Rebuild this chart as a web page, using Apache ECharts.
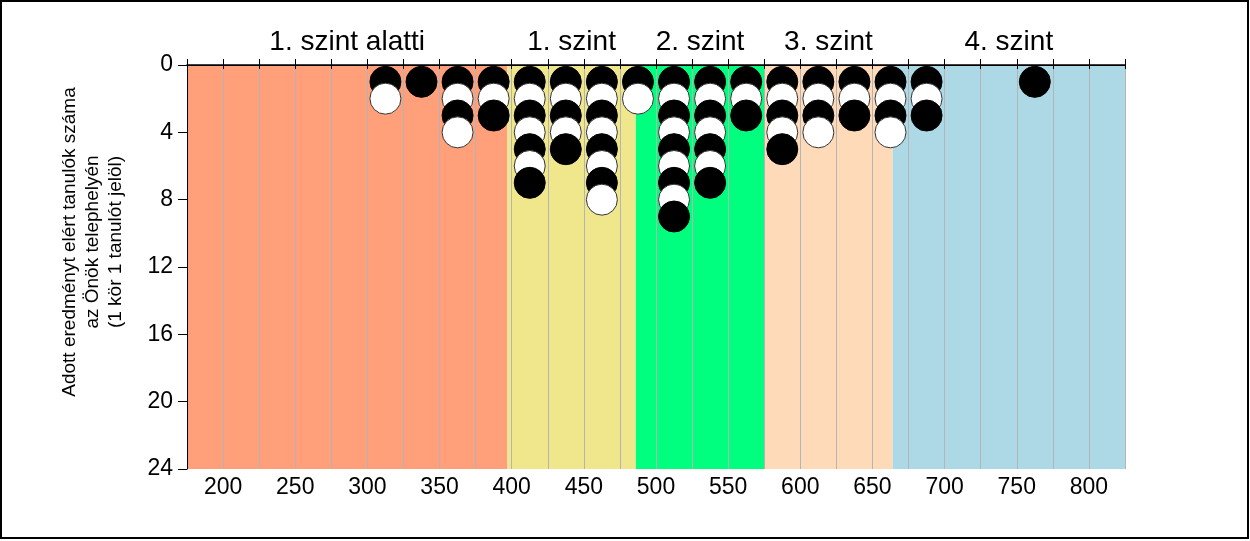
<!DOCTYPE html>
<html>
<head>
<meta charset="utf-8">
<script src="https://cdn.jsdelivr.net/npm/echarts@6/dist/echarts.min.js"></script>
<style>
html,body{margin:0;padding:0;background:#fff;}
#chart{width:1250px;height:541px;}
</style>
</head>
<body>
<div id="chart"></div>
<script>
// Score bins (bin centres) and number of students in each bin
const binCenters = [312.5, 337.5, 362.5, 387.5, 412.5, 437.5, 462.5, 487.5, 512.5, 537.5, 562.5, 587.5, 612.5, 637.5, 662.5, 687.5, 762.5];
const binCounts  = [2,     1,     4,     3,     7,     5,     8,     2,     9,     7,     3,     5,     4,     3,     4,     3,     1];

// Proficiency level bands
const levelNames  = ['1. szint alatti', '1. szint', '2. szint', '3. szint', '4. szint'];
const levelStarts = [175, 397, 486, 575, 664];
const levelEnds   = [397, 486, 575, 664, 825];
const levelColors = ['#FFA07A', '#F0E68C', '#00FF7F', '#FFDAB9', '#ADD8E6'];

const xLabelValues = [200, 250, 300, 350, 400, 450, 500, 550, 600, 650, 700, 750, 800];
const yAxisTitle = 'Adott eredményt elért tanulók száma\naz Önök telephelyén\n(1 kör 1 tanulót jelöl)';

const FONT = 'Liberation Sans, Arial, sans-serif';

// one point per student: stacked at 1..count in each bin
const allPts = [];
binCenters.forEach((x, i) => {
  for (let k = 1; k <= binCounts[i]; k++) {
    allPts.push({ value: [x, k], itemStyle: k % 2 === 1
      ? { color: '#000', borderColor: '#000', borderWidth: 1, opacity: 1 }
      : { color: '#fff', borderColor: '#333', borderWidth: 1, opacity: 1 } });
  }
});
// draw order: top of column first so lower circles overlap upper ones
allPts.sort((a, b) => a.value[1] - b.value[1]);

const areas = levelNames.map((n, i) => [
  { name: n, xAxis: levelStarts[i], itemStyle: { color: levelColors[i], opacity: 1 } },
  { xAxis: levelEnds[i] }
]);

const chart = echarts.init(document.getElementById('chart'), null, { renderer: 'canvas' });
chart.setOption({
  animation: false,
  backgroundColor: '#fff',
  grid: { left: 187, right: 125, top: 65, bottom: 72, containLabel: false },
  xAxis: [{
    type: 'value', min: 175, max: 825, interval: 25, position: 'bottom', z: 2,
    axisLine: { show: true, lineStyle: { color: '#000', width: 1 } },
    axisTick: { show: true, length: 4, lineStyle: { color: '#000' } },
    axisLabel: { margin: 7, color: '#000', fontSize: 23, fontFamily: FONT,
      formatter: v => xLabelValues.indexOf(v) >= 0 ? String(v) : '' },
    splitLine: { show: true, lineStyle: { color: '#B4B4B4', width: 1 } }
  }, {
    type: 'value', min: 175, max: 825, interval: 25, position: 'top', z: 2,
    axisLine: { show: true, lineStyle: { color: '#000', width: 1.5 } },
    axisTick: { show: true, length: 6, lineStyle: { color: '#000' } },
    axisLabel: { show: false },
    splitLine: { show: false }
  }],
  yAxis: {
    type: 'value', min: 0, max: 24, interval: 4, inverse: true, z: 2,
    axisLine: { show: true, lineStyle: { color: '#000', width: 1 } },
    axisTick: { show: true, length: 9, lineStyle: { color: '#000' } },
    axisLabel: { margin: 14, color: '#000', fontSize: 23, fontFamily: FONT },
    splitLine: { show: false }
  },
  graphic: [{
    type: 'rect', shape: { x: 1, y: 1, width: 1247, height: 537 },
    style: { fill: null, stroke: '#000', lineWidth: 2 }, z: 100
  }, {
    type: 'text', x: 93, y: 242, rotation: Math.PI / 2,
    style: { text: yAxisTitle, fill: '#000', font: '19px ' + FONT, lineHeight: 23,
      align: 'center', verticalAlign: 'middle' }
  }],
  series: [{
    type: 'scatter', data: [], z: 1, silent: true,
    markArea: {
      silent: true,
      label: { show: true, position: 'top', distance: 9, color: '#000', fontSize: 28, fontFamily: FONT },
      data: areas
    }
  }, {
    type: 'scatter', z: 5, symbol: 'circle', symbolSize: 31, silent: true,
    data: allPts
  }]
});
</script>
</body>
</html>
